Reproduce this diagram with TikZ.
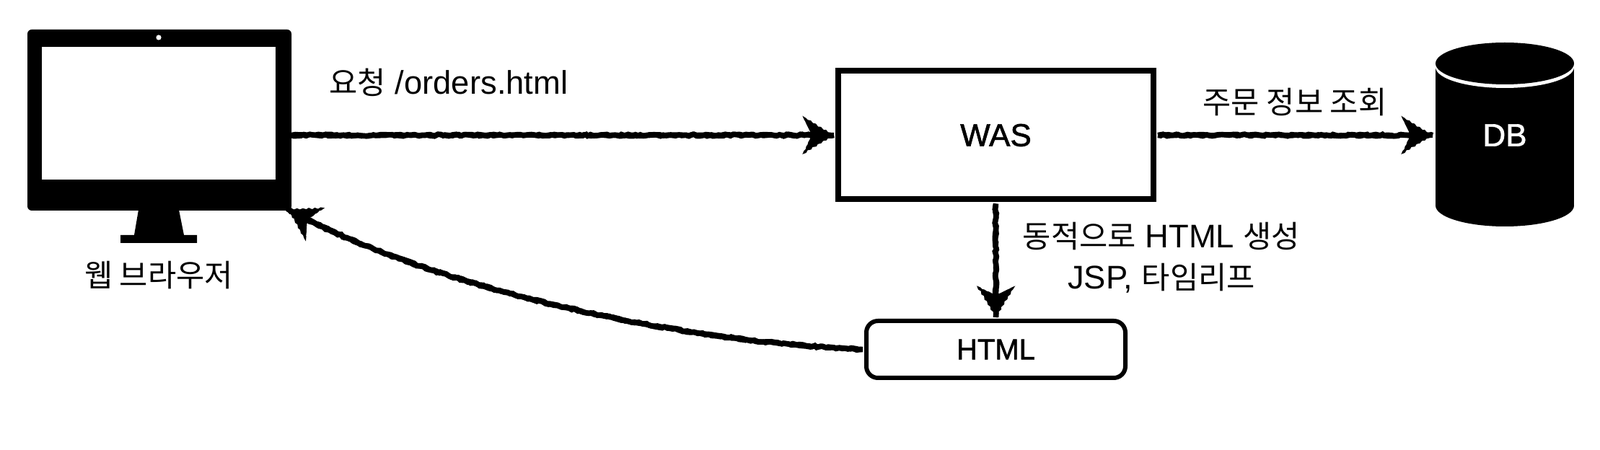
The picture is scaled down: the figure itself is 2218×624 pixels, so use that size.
\documentclass[tikz,border=0pt]{standalone}
\usepackage{fontspec}
\setmainfont{Liberation Sans}
\newfontfamily\kr[Scale=0.94]{Noto Sans CJK KR}
\newfontfamily\medfont[FakeBold=1.5]{Liberation Sans}
\usetikzlibrary{decorations.pathmorphing}
\tikzset{
  x=0.5pt,y=-0.5pt,
  label text/.style={font=\fontsize{22.7}{26}\selectfont,inner sep=0pt,align=center,text=black},
  big text/.style={font=\medfont\fontsize{22}{26}\selectfont,inner sep=0pt},
  sketch/.style={
    postaction={draw,line width=3.7pt,line cap=butt,decorate,
      decoration={random steps,segment length=2.1pt,amplitude=0.65pt}},
    postaction={draw,line width=3.7pt,line cap=butt,decorate,
      decoration={random steps,segment length=2.6pt,amplitude=0.65pt}}
  },
  head at end/.style={pos=1,sloped,allow upside down},
  sketchhead/.pic={
    \fill[black,x=1pt,y=1pt]
      (0,0) -- (-2.5,1.9) -- (-3.5,1.5) -- (-5.5,3.8) -- (-7,3.6) -- (-9,5.8) -- (-11,6) -- (-12.5,8) -- (-14.5,8.4) -- (-16,10.2) -- (-18,10.6) -- (-19.5,12) -- (-21.8,13.4)
      -- (-20.5,10.5) -- (-20,9.8) -- (-19,7.5) -- (-18.5,6.6) -- (-17.5,4.5) -- (-16.5,2.5)
      -- (-16.5,-2.5) -- (-17.8,-4.8) -- (-18.2,-6.4) -- (-19.2,-7.8) -- (-19.6,-9.6) -- (-20.8,-10.8) -- (-21.8,-13.2)
      -- (-19.2,-12.2) -- (-18.2,-10.4) -- (-15.8,-10) -- (-14.8,-8.2) -- (-12.2,-7.9) -- (-11.2,-6.2) -- (-8.8,-5.6) -- (-7.4,-3.9) -- (-5.2,-3.6) -- (-3.8,-1.7) -- (-2.2,-1.7) -- cycle;
  }
}
\begin{document}
\begin{tikzpicture}
\useasboundingbox (0,0) rectangle (2218,624);
% browser
\node[fill=black,rounded corners=3pt,minimum width=183pt,minimum height=125.5pt,inner sep=0pt,outer sep=0pt] (body) at (221,166.5) {};
\node[fill=white,minimum width=162pt,minimum height=92pt,inner sep=0pt,outer sep=0pt] (screen) at (220,157) {};
\node[fill=white,circle,minimum size=3.6pt,inner sep=0pt] (camera) at (220,52) {};
\fill[black] (192,291) -- (248,291) -- (255,326) -- (273,326) -- (273,337) -- (167,337) -- (167,326) -- (186,326) -- cycle;
\node[label text] (browser) at (220,382) {\kr 웹 브라우저};
% WAS
\node[draw=black,line width=4pt,fill=white,minimum width=218.5pt,minimum height=89pt,inner sep=0pt,outer sep=3pt,big text] (was) at (1380.5,187.5) {WAS};
% DB
\fill[black] (1990,93) rectangle (2182,285);
\fill[black] (2086,285) ellipse (96 and 29);
\fill[white] (2086,93) ellipse (96 and 29);
\fill[black] (2086,88) ellipse (96 and 29);
\node[minimum width=96pt,minimum height=127.5pt,inner sep=0pt,outer sep=2pt,big text,text=white] (db) at (2086,187.5) {DB};
% HTML
\node[draw=black,line width=3pt,fill=white,rounded corners=8pt,minimum width=179.5pt,minimum height=39.5pt,inner sep=0pt,outer sep=2.5pt,font=\medfont\fontsize{20}{24}\selectfont] (html) at (1380.5,484.5) {HTML};
% labels
\node[label text] (req) at (622,114) {{\kr 요청} /orders.html};
\node[label text] (query) at (1795,142) {\kr 주문 정보 조회};
\node[label text] (dyn) at (1610,328) {{\kr 동적으로} HTML {\kr 생성}};
\node[label text] (jsp) at (1610,386) {JSP, {\kr 타임리프}};
% connectors
\coordinate (browsertip) at (399,290);
\path[sketch] (body.east |- was.west) -- (was.west) pic[head at end]{sketchhead};
\path[sketch] (was.east) -- (db.west) pic[head at end]{sketchhead};
\path[sketch] (was.south) -- (html.north) pic[head at end]{sketchhead};
\path[sketch] (html.west) .. controls (880,470) and (560,380) .. (browsertip) pic[head at end]{sketchhead};
\end{tikzpicture}
\end{document}
